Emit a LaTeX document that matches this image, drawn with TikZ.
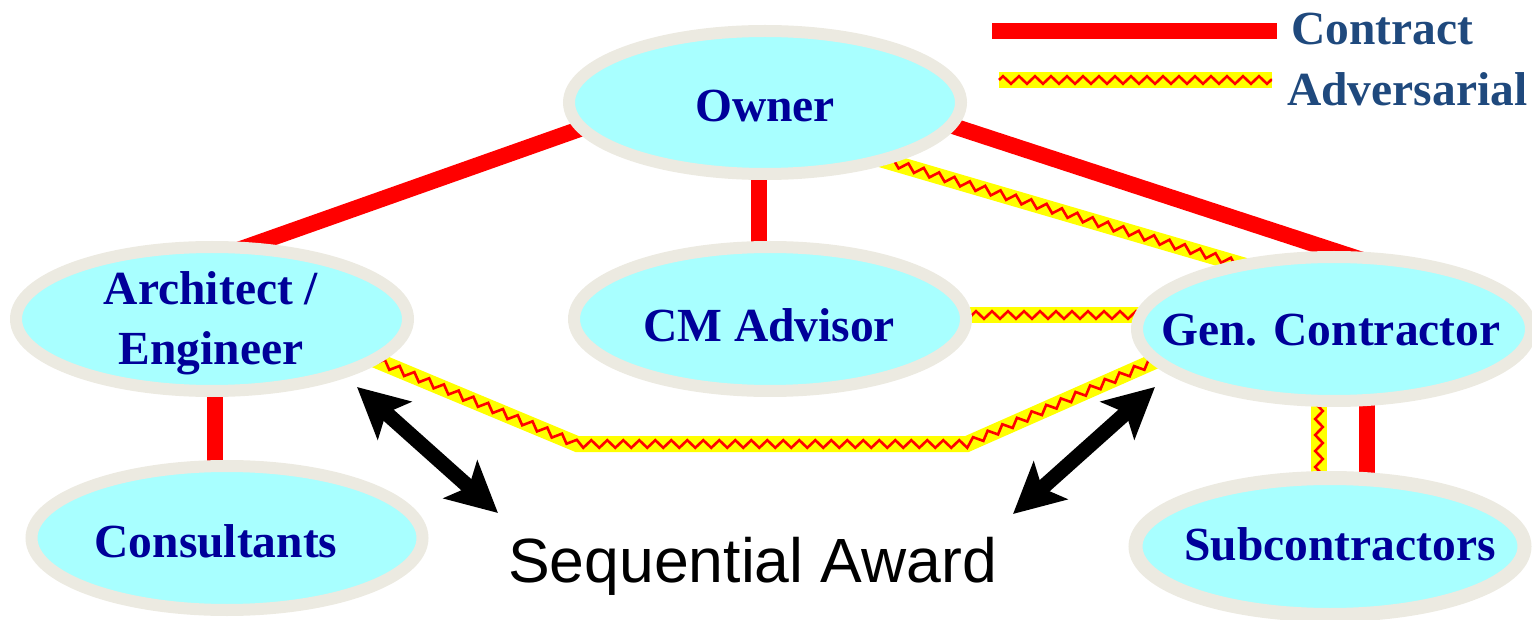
\documentclass[tikz,border=0pt]{standalone}
\usepackage{fontspec}
\setmainfont{Liberation Serif}
\newfontfamily\sansf{Liberation Sans}
\usetikzlibrary{calc,arrows.meta,decorations.pathmorphing,shapes.geometric}
\definecolor{nodefill}{RGB}{168,255,255}
\definecolor{nodeborder}{RGB}{236,234,225}
\definecolor{nodetext}{RGB}{0,0,153}
\definecolor{legtext}{RGB}{31,73,125}
\definecolor{contractred}{RGB}{255,0,0}
\definecolor{advyellow}{RGB}{255,255,0}
\pgfdeclarelayer{bg}
\pgfsetlayers{bg,main}
\begin{document}
\begin{tikzpicture}[x=1pt,y=-1pt,
  party/.style={ellipse, draw=nodeborder, fill=nodefill, line width=12pt, outer sep=0pt, inner sep=0pt},
  lbl/.style={anchor=base, inner sep=0pt, text=nodetext, font=\fontsize{47.5}{56}\selectfont\bfseries},
  leg/.style={anchor=base west, inner sep=0pt, text=legtext, font=\fontsize{47.5}{56}\selectfont\bfseries},
  contract/.style={draw=contractred, line width=16pt},
  adv/.style={draw=advyellow, line width=16pt,
    postaction={draw=contractred, line width=2.6pt, decorate,
      decoration={zigzag, segment length=16pt, amplitude=3.8pt}}},
  award/.style={line width=15pt, draw=black,
    {Stealth[length=50pt,width=50pt,inset=11pt]}-{Stealth[length=50pt,width=50pt,inset=11pt]}}
]
\useasboundingbox (0,0) rectangle (1532,620);

% parties
\node[party, minimum width=392pt, minimum height=143pt] (owner) at (765,102.5) {};
\node[party, minimum width=392pt, minimum height=144pt] (arch) at (212,319) {};
\node[party, minimum width=392pt, minimum height=144pt] (cm) at (770,319) {};
\node[party, minimum width=394pt, minimum height=144pt] (genc) at (1334,329) {};
\node[party, minimum width=391pt, minimum height=144pt] (cons) at (227,538) {};
\node[party, line width=14pt, minimum width=389pt, minimum height=137pt] (sub) at (1330,546.5) {};

% labels
\node[lbl] (ownerT) at (765,122) {Owner};
\node[lbl] (archTa) at (211,305) {Architect /};
\node[lbl] (archTb) at (211,365) {Engineer};
\node[lbl] (cmT) at (769,342) {CM Advisor};
\node[lbl] (gencT) at (1331,345) {Gen. Contractor};
\node[lbl] (consT) at (216,557) {Consultants};
\node[lbl] (subT) at (1340,560) {Subcontractors};

% legend
\coordinate (lgCa) at (992,31);
\coordinate (lgCb) at (1277,31);
\coordinate (lgAa) at (999,80);
\coordinate (lgAb) at (1272,80);
\draw[contract] (lgCa) -- (lgCb);
\draw[adv] (lgAa) -- (lgAb);
\node[leg] (legC) at (1291,45) {Contract};
\node[leg] (legA) at (1287,106) {Adversarial};

% sequential award
\node[anchor=base west, inner sep=0pt, font=\sansf\fontsize{62.5}{70}\selectfont] (seq) at (508,582) {Sequential Award};
\coordinate (awLa) at (357,387);
\coordinate (awLb) at (498,513);
\coordinate (awRa) at (1155,387);
\coordinate (awRb) at (1013,514);
\draw[award] (awLa) -- (awLb);
\draw[award] (awRa) -- (awRb);

% connectors
\coordinate (kA) at (577,444);
\coordinate (kB) at (967,444);
\begin{pgfonlayer}{bg}
\draw[contract] ($(arch.66)!-10pt!(owner.188)$) -- ($(owner.188)!-10pt!(arch.66)$);
\draw[contract] ([xshift=-6pt,yshift=10pt]owner.south) -- ([xshift=-11pt,yshift=-10pt]cm.north);
\draw[contract] ($(owner.353)!-10pt!(genc.74)$) -- ($(genc.74)!-10pt!(owner.353)$);
\draw[contract] ([xshift=3pt,yshift=10pt]arch.south) -- ([xshift=-12pt,yshift=-10pt]cons.north);
\draw[contract] ([xshift=33pt,yshift=10pt]genc.south) -- ([xshift=37pt,yshift=-10pt]sub.north);
\draw[adv] ([xshift=-15pt,yshift=10pt]genc.south) -- ([xshift=-11pt,yshift=-10pt]sub.north);
\draw[adv] ($(owner.334)!-10pt!(genc.145)$) -- ($(genc.145)!-10pt!(owner.334)$);
\draw[adv] ([xshift=-10pt,yshift=4pt]cm.east) -- ([xshift=10pt,yshift=14pt]genc.west);
\draw[adv] ($(arch.346)!-10pt!(kA)$) -- (kA) -- (kB) -- ($(genc.190)!-10pt!(kB)$);
\end{pgfonlayer}
\end{tikzpicture}
\end{document}
